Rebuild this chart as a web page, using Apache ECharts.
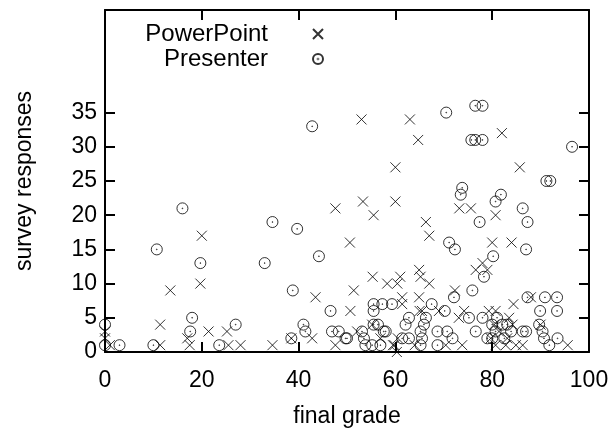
<!DOCTYPE html>
<html>
<head>
<meta charset="utf-8">
<script src="https://cdn.jsdelivr.net/npm/echarts@6/dist/echarts.min.js"></script>
<style>html,body{margin:0;padding:0;background:#fff}#c{width:613px;height:430px}</style>
</head>
<body>
<div id="c"></div>
<script>
var seriesNames = ['PowerPoint', 'Presenter'];
var xTicks = [0, 20, 40, 60, 80, 100];
var yTicks = [0, 5, 10, 15, 20, 25, 30, 35];

var powerPoint = [
  [0,3],[0,2],[1,1],[11.4,4],[11.4,1],[13.5,9],[19.7,10],[20,17],[17,2],[17.5,1],
  [21.4,3],[25.2,3],[25.5,1],[28,1],[34.6,1],[38.5,2],[42.8,2],[43.5,8],[47.6,21],[47.6,1],
  [50.6,16],[50.7,6],[51.4,9],[52.1,3],[53,34],[53.3,22],[55.5,20],[55.3,11],[55.2,4],[56.9,2],
  [58.3,10],[60.4,10],[61,11],[60,22],[60,27],[59.8,1],[60.5,2],[60.3,0],[59.5,1],[61.4,8],
  [61.4,7],[63,34],[64.7,31],[64.9,12],[65.2,11],[64.9,8],[65,6],[65.5,6],[66.3,19],[67,17],
  [67,10],[64,1],[69,6],[70.4,1],[72.3,9],[73.2,21],[73.8,1],[74.2,6],[73.1,5],[75.6,21],
  [76.6,12],[78,13],[79,12],[79.3,6],[80,16],[80.7,20],[80.7,6],[80.4,4],[81.4,3],[79.7,2],
  [80.7,1],[82,32],[82.8,1],[83.1,2],[83.5,5],[84.2,4],[84,16],[84.4,7],[84.9,1],[85.7,27],
  [86.3,1],[88,8],[90,4],[95.6,1]
];

var presenter = [
  [0,4],[0,1],[3,1],[10,1],[10.7,15],[16,21],[18,5],[17.6,3],[19.7,13],[23.6,1],
  [27,4],[33,13],[34.6,19],[38.5,2],[38.8,9],[39.7,18],[41,4],[41.4,3],[42.8,33],[44.2,14],
  [46.6,6],[46.9,3],[48.3,3],[49.7,2],[50,2],[53.1,3],[53.5,2],[53.8,1],[55.5,4],[56.4,4],
  [57.6,3],[58,3],[55.2,1],[56.9,1],[55.5,7],[57.3,7],[59.3,7],[55.5,6],[61.4,2],[62.8,2],
  [62.8,5],[62.1,4],[65.9,4],[66.3,5],[65.2,3],[65.5,2],[65.2,1],[67.5,7],[70.2,6],[68.7,3],
  [70.7,3],[71.8,2],[68.7,1],[70.5,35],[71.1,16],[72.3,15],[72.1,8],[73.8,24],[73.5,23],[75.2,5],
  [75.9,9],[76.6,3],[75.7,31],[76.5,31],[78,31],[76.5,36],[78,36],[77.4,19],[78,5],[78.3,11],
  [79,2],[80.2,14],[80,4],[81,5],[82.1,4],[83.1,4],[80.7,3],[82.5,2],[80,2],[80.7,22],
  [81.8,23],[83.9,3],[86.3,3],[87,3],[86.3,21],[87.3,19],[87,15],[87.3,8],[89.9,6],[89.7,4],
  [90.4,3],[90.7,2],[90.9,8],[91.2,25],[92,25],[91.8,1],[93.4,8],[93.4,6],[93.5,2],[96.5,30]
];

var crossPath = 'path://M0,0 L10,10 M10,0 L0,10';
var circlePath = 'path://M10,0 A10,10 0 1,1 10,20 A10,10 0 1,1 10,0 Z M10,9.3 A0.7,0.7 0 1,1 10,10.7 A0.7,0.7 0 1,1 10,9.3 Z';

var FONT = 'Liberation Sans, Arial, Helvetica, sans-serif';
var FS = 23;
var axisLineStyle = {color: '#000', width: 2};
var tickStyle = {color: '#000', width: 2};

function legendFor(name, top) {
  return {
    data: [name],
    orient: 'vertical',
    align: 'right',
    right: 284,
    top: top,
    itemWidth: 10,
    itemHeight: 10,
    textStyle: {fontFamily: FONT, fontSize: 24, color: '#000', padding: [0, 40, 0, 0]},
    selectedMode: false
  };
}

var chart = echarts.init(document.getElementById('c'), null, {renderer: 'canvas'});
chart.setOption({
  animation: false,
  backgroundColor: '#fff',
  textStyle: {fontFamily: FONT, color: '#000'},
  grid: {left: 105, right: 24, top: 10, bottom: 78, containLabel: false, outerBoundsMode: 'none'},
  legend: [legendFor(seriesNames[0], 17), legendFor(seriesNames[1], 42)],
  xAxis: [{
    type: 'value', min: 0, max: 100, interval: 20, position: 'bottom',
    name: 'final grade', nameLocation: 'middle', nameGap: 53,
    nameTextStyle: {fontFamily: FONT, fontSize: FS, color: '#000'},
    axisLine: {show: true, onZero: false, lineStyle: axisLineStyle},
    axisTick: {show: true, inside: true, length: 10, lineStyle: tickStyle},
    axisLabel: {fontFamily: FONT, fontSize: FS, color: '#000', margin: 17},
    splitLine: {show: false}
  }, {
    type: 'value', min: 0, max: 100, interval: 20, position: 'top',
    axisLine: {show: true, onZero: false, lineStyle: axisLineStyle},
    axisTick: {show: true, inside: true, length: 10, lineStyle: tickStyle},
    axisLabel: {show: false},
    splitLine: {show: false}
  }],
  yAxis: [{
    type: 'value', min: 0, max: 50, interval: 5, position: 'left',
    name: 'survey responses', nameLocation: 'middle', nameGap: 69, nameRotate: 90,
    nameTextStyle: {fontFamily: FONT, fontSize: FS, color: '#000'},
    axisLine: {show: true, onZero: false, lineStyle: axisLineStyle},
    axisTick: {show: true, inside: true, length: 10, customValues: yTicks, lineStyle: tickStyle},
    axisLabel: {fontFamily: FONT, fontSize: FS, color: '#000', margin: 8, customValues: yTicks},
    splitLine: {show: false}
  }, {
    type: 'value', min: 0, max: 50, interval: 5, position: 'right',
    axisLine: {show: true, onZero: false, lineStyle: axisLineStyle},
    axisTick: {show: true, inside: true, length: 10, customValues: yTicks, lineStyle: tickStyle},
    axisLabel: {show: false},
    splitLine: {show: false}
  }],
  series: [{
    name: seriesNames[0],
    type: 'scatter',
    xAxisIndex: 0, yAxisIndex: 0,
    data: powerPoint,
    symbol: crossPath,
    symbolSize: 10,
    itemStyle: {color: 'transparent', borderColor: '#000', borderWidth: 1},
    emphasis: {disabled: true}
  }, {
    name: seriesNames[1],
    type: 'scatter',
    xAxisIndex: 0, yAxisIndex: 0,
    data: presenter,
    symbol: circlePath,
    symbolSize: 11,
    itemStyle: {color: 'transparent', borderColor: '#000', borderWidth: 1},
    emphasis: {disabled: true}
  }]
});
</script>
</body>
</html>
